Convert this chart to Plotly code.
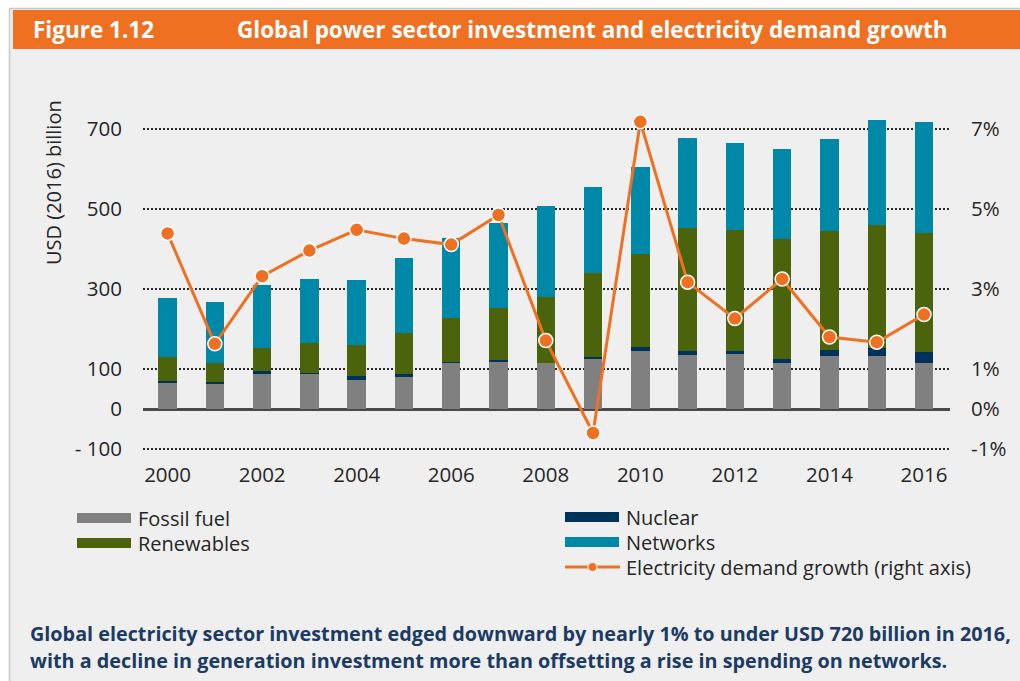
import plotly.graph_objects as go

years = list(range(2000, 2017))
fossil = [67, 63, 88, 88, 73, 79, 117, 117, 115, 126, 146, 135, 138, 116, 132, 133, 116]
nuclear = [4, 4, 6, 3, 9, 8, 1, 5, 1, 4, 9, 10, 6, 9, 16, 19, 26]
renewables = [59, 48, 58, 75, 79, 103, 109, 130, 164, 210, 233, 308, 304, 299, 296, 309, 298]
networks = [147, 152, 157, 159, 162, 187, 200, 212, 228, 214, 216, 225, 218, 225, 231, 262, 278]
demand_growth = [4.39, 1.63, 3.32, 3.96, 4.48, 4.26, 4.11, 4.85, 1.71, -0.6, 7.18, 3.17, 2.26, 3.25, 1.8, 1.67, 2.36]

left_tickvals = [700, 500, 300, 100, 0, -100]
left_ticktext = ["700", "500", "300", "100", "0", "- 100"]
right_tickvals = [7, 5, 3, 1, 0, -1]
right_ticktext = ["7%", "5%", "3%", "1%", "0%", "-1%"]
x_tickvals = list(range(2000, 2017, 2))

C_FOSSIL = "#808080"
C_NUC = "#00335a"
C_REN = "#4b630b"
C_NET = "#0088a8"
C_ORANGE = "#f07022"
C_TEXT = "#262626"
C_CAPTION = "#1b3b66"
FONT = "Open Sans"

W, H = 1020, 681
L, R, T, B = 143, 950, 111, 453  # plot area in pixels


def px(x):
    return (x - L) / (R - L)


def py(y):
    return (B - y) / (B - T)


fig = go.Figure()
for name, vals, col in [("Fossil fuel", fossil, C_FOSSIL), ("Nuclear", nuclear, C_NUC),
                        ("Renewables", renewables, C_REN), ("Networks", networks, C_NET)]:
    fig.add_trace(go.Bar(x=years, y=vals, name=name, marker=dict(color=col, line=dict(width=0)),
                         showlegend=False))

fig.add_trace(go.Scatter(x=years, y=demand_growth, yaxis="y2", mode="lines+markers",
                         name="Electricity demand growth (right axis)",
                         line=dict(color=C_ORANGE, width=3),
                         marker=dict(size=14, color=C_ORANGE, line=dict(color="white", width=1.5)),
                         showlegend=False))

dotted = "2px,2px"
fig.update_layout(
    width=W, height=H,
    margin=dict(l=L, r=W - R, t=T, b=H - B, pad=0),
    paper_bgcolor="#efefef", plot_bgcolor="rgba(0,0,0,0)",
    barmode="stack", bargap=0.61,
    font=dict(family=FONT, color=C_TEXT, size=20),
    xaxis=dict(range=[1999.48, 2016.55], tickvals=x_tickvals, showgrid=False, zeroline=False,
               showline=False, ticks="outside", ticklen=3, tickcolor="rgba(0,0,0,0)",
               tickfont=dict(size=20.5, color=C_TEXT)),
    yaxis=dict(range=[-110, 745], tickvals=left_tickvals, ticktext=left_ticktext,
               showgrid=True, gridcolor="#2a2a2a", gridwidth=2, griddash=dotted,
               zeroline=True, zerolinecolor="#4a4a4a", zerolinewidth=2.5,
               ticks="outside", ticklen=16, tickcolor="rgba(0,0,0,0)",
               tickfont=dict(size=20.5, color=C_TEXT), showline=False),
    yaxis2=dict(range=[-1.1, 7.45], overlaying="y", side="right", tickvals=right_tickvals,
                ticktext=right_ticktext, showgrid=False, zeroline=False, showline=False,
                ticks="outside", ticklen=16, tickcolor="rgba(0,0,0,0)",
                tickfont=dict(size=20.5, color=C_TEXT)),
)

shapes = []
# white outside frame
shapes.append(dict(type="rect", xref="paper", yref="paper", x0=px(0), x1=px(9), y0=py(0), y1=py(H),
                   fillcolor="white", line=dict(width=0), layer="below"))
shapes.append(dict(type="rect", xref="paper", yref="paper", x0=px(0), x1=px(W), y0=py(0), y1=py(8),
                   fillcolor="white", line=dict(width=0), layer="below"))
shapes.append(dict(type="line", xref="paper", yref="paper", x0=px(9.5), x1=px(9.5), y0=py(8.5), y1=py(H),
                   line=dict(color="#c8c8c8", width=1.5)))
shapes.append(dict(type="line", xref="paper", yref="paper", x0=px(9.5), x1=px(W), y0=py(8.5), y1=py(8.5),
                   line=dict(color="#c8c8c8", width=1.5)))
# orange header
shapes.append(dict(type="rect", xref="paper", yref="paper", x0=px(13), x1=px(W), y0=py(10), y1=py(49),
                   fillcolor=C_ORANGE, line=dict(width=0)))

# legend swatches
def swatch(x0, yc, col):
    shapes.append(dict(type="rect", xref="paper", yref="paper", x0=px(x0), x1=px(x0 + 54),
                       y0=py(yc - 5), y1=py(yc + 5), fillcolor=col, line=dict(width=0)))

swatch(77, 518, C_FOSSIL)
swatch(77, 543, C_REN)
swatch(565, 517, C_NUC)
swatch(565, 542, C_NET)
shapes.append(dict(type="line", xref="paper", yref="paper", x0=px(565), x1=px(620), y0=py(567), y1=py(567),
                   line=dict(color=C_ORANGE, width=3)))
shapes.append(dict(type="circle", xref="paper", yref="paper", x0=px(588), x1=px(597), y0=py(562.5),
                   y1=py(571.5), fillcolor=C_ORANGE, line=dict(color="white", width=1)))
fig.update_layout(shapes=shapes)

ann = []


def text(x, y, s, size, color=C_TEXT, bold=False, xanchor="left", angle=0):
    ann.append(dict(xref="paper", yref="paper", x=px(x), y=py(y), text=("<b>%s</b>" % s) if bold else s,
                    showarrow=False, xanchor=xanchor, yanchor="middle", textangle=angle,
                    font=dict(family=FONT, size=size, color=color)))


text(31, 30, "Figure 1.12", 22.5, "white", True)
text(235, 30, "Global power sector investment and electricity demand growth", 22.5, "white", True)
text(53, 183, "USD (2016) billion", 20, C_TEXT, False, "center", -90)
text(136, 518, "Fossil fuel", 20)
text(136, 543, "Renewables", 20)
text(624, 517, "Nuclear", 20)
text(624, 542, "Networks", 20)
text(624, 567, "Electricity demand growth (right axis)", 20)
text(28, 633, "Global electricity sector investment edged downward by nearly 1% to under USD 720 billion in 2016,",
     19.8, C_CAPTION, True)
text(28, 660, "with a decline in generation investment more than offsetting a rise in spending on networks.",
     19.8, C_CAPTION, True)
fig.update_layout(annotations=ann)

fig.write_html("out.html", config={"displayModeBar": False},
               post_script="document.body.style.margin='0';")
